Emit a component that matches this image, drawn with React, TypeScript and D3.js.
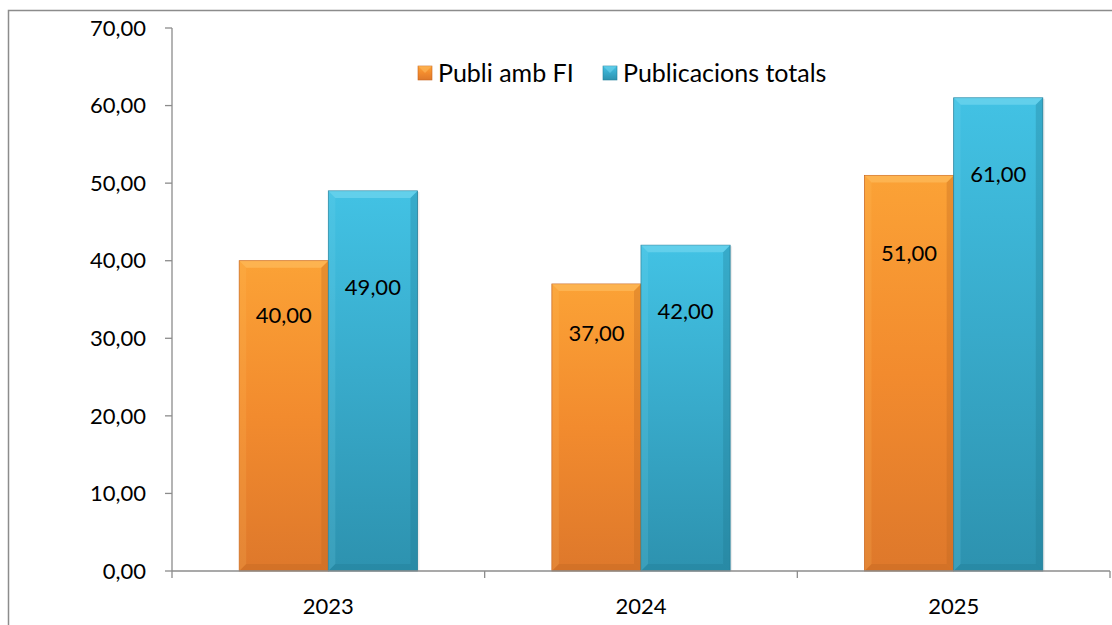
import * as d3 from "d3";
import React from "react";

// data
const years = ["2023", "2024", "2025"];
const publiFI = [40, 37, 51];
const publiTotal = [49, 42, 61];
// where the data labels sit (in value units, as placed in the original)
const labelFI = [32.9, 30.7, 40.9];
const labelTotal = [36.6, 33.5, 51.1];
const seriesNames = ["Publi amb FI", "Publicacions totals"];
const yTicks = [0, 10, 20, 30, 40, 50, 60, 70];

const fmt = (v: number) => v.toFixed(2).replace(".", ",");

const FONT = "Lato, 'Open Sans', sans-serif";

const palette = [
  { top: "#FBA236", mid: "#F28B2E", bot: "#DE782B", edge: "#C8651F", light: "#FFC063", dark: "#B8621F" },
  { top: "#42C2E4", mid: "#38AACA", bot: "#2D92AF", edge: "#24809C", light: "#78D8F0", dark: "#1F7690" },
];

function Bar({ x, y, w, h, s }: { x: number; y: number; w: number; h: number; s: number }) {
  const b = 7; // bevel size
  const c = palette[s];
  return (
    <g>
      <rect x={x + 2} y={y + 1} width={w} height={h - 1} fill="#000" opacity={0.08} />
      <rect x={x} y={y} width={w} height={h} fill={`url(#grad${s})`} stroke={c.edge} strokeWidth={0.8} />
      {/* top bevel */}
      <polygon points={`${x},${y} ${x + w},${y} ${x + w - b},${y + b} ${x + b},${y + b}`} fill={c.light} opacity={0.6} />
      {/* left bevel */}
      <polygon points={`${x},${y} ${x + b},${y + b} ${x + b},${y + h - b} ${x},${y + h}`} fill={c.light} opacity={0.18} />
      {/* right bevel */}
      <polygon points={`${x + w},${y} ${x + w},${y + h} ${x + w - b},${y + h - b} ${x + w - b},${y + b}`} fill={c.dark} opacity={0.3} />
      {/* bottom bevel */}
      <polygon points={`${x},${y + h} ${x + w},${y + h} ${x + w - b},${y + h - b} ${x + b},${y + h - b}`} fill={c.dark} opacity={0.3} />
    </g>
  );
}

export default function App() {
  const W = 1112, H = 625;
  const plot = { left: 172, right: 1110, top: 28, bottom: 571 };

  const x = d3.scaleBand<string>().domain(years).range([plot.left, plot.right]).paddingInner(0).paddingOuter(0);
  const cw = x.bandwidth();
  const barW = cw * 0.285;
  const pad = (cw - 2 * barW) / 2;
  const y = d3.scaleLinear().domain([0, 70]).range([plot.bottom, plot.top]);

  const series = [publiFI, publiTotal];
  const labels = [labelFI, labelTotal];
  const axisColor = "#8C8C8C";

  return (
    <svg width={W} height={H} style={{ position: "absolute", left: 0, top: 0, background: "#fff" }}>
      <defs>
        {palette.map((c, i) => (
          <linearGradient key={i} id={`grad${i}`} x1="0" y1="0" x2="0" y2="1">
            <stop offset="0" stopColor={c.top} />
            <stop offset="0.5" stopColor={c.mid} />
            <stop offset="1" stopColor={c.bot} />
          </linearGradient>
        ))}
      </defs>
      {/* outer chart border */}
      <rect x={8.5} y={10.5} width={W + 20} height={H + 20} fill="none" stroke="#8C8C8C" strokeWidth={1.5} />

      {/* bars */}
      {years.map((yr, i) =>
        series.map((vals, s) => {
          const bx = (x(yr) as number) + pad + s * barW;
          const by = y(vals[i]);
          return <Bar key={yr + s} x={bx} y={by} w={barW} h={plot.bottom - by} s={s} />;
        })
      )}

      {/* y axis */}
      <line x1={plot.left} x2={plot.left} y1={plot.top} y2={plot.bottom} stroke={axisColor} strokeWidth={1.3} />
      {yTicks.map((t) => (
        <g key={t}>
          <line x1={plot.left - 7} x2={plot.left} y1={y(t)} y2={y(t)} stroke={axisColor} strokeWidth={1.3} />
          <text x={146} y={y(t)} dy="0.35em" textAnchor="end" fontFamily={FONT} fontSize={22} fill="#000">
            {fmt(t)}
          </text>
        </g>
      ))}

      {/* x axis */}
      <line x1={plot.left} x2={plot.right} y1={plot.bottom} y2={plot.bottom} stroke={axisColor} strokeWidth={1.3} />
      {[...years.map((yr) => x(yr) as number), plot.right].map((tx, i) => (
        <line key={i} x1={tx} x2={tx} y1={plot.bottom} y2={plot.bottom + 7} stroke={axisColor} strokeWidth={1.3} />
      ))}
      {years.map((yr) => (
        <text key={yr} x={(x(yr) as number) + cw / 2} y={606} dy="0.35em" textAnchor="middle" fontFamily={FONT} fontSize={22} fill="#000">
          {yr}
        </text>
      ))}

      {/* data labels */}
      {years.map((yr, i) =>
        series.map((vals, s) => (
          <text
            key={"l" + yr + s}
            x={(x(yr) as number) + pad + s * barW + barW / 2}
            y={y(labels[s][i])}
            dy="0.35em"
            textAnchor="middle"
            fontFamily={FONT}
            fontSize={22}
            fill="#000"
          >
            {fmt(vals[i])}
          </text>
        ))
      )}

      {/* legend */}
      {seriesNames.map((name, s) => {
        const lx = s === 0 ? 418 : 603;
        return (
          <g key={name}>
            <rect x={lx} y={66} width={14} height={14} fill={`url(#grad${s})`} stroke={palette[s].edge} strokeWidth={0.6} />
            <polygon points={`${lx},66 ${lx + 14},66 ${lx + 7},73`} fill={palette[s].light} opacity={0.5} />
            <text x={lx + 20} y={73} dy="0.35em" fontFamily={FONT} fontSize={25} fill="#000">
              {name}
            </text>
          </g>
        );
      })}
    </svg>
  );
}
